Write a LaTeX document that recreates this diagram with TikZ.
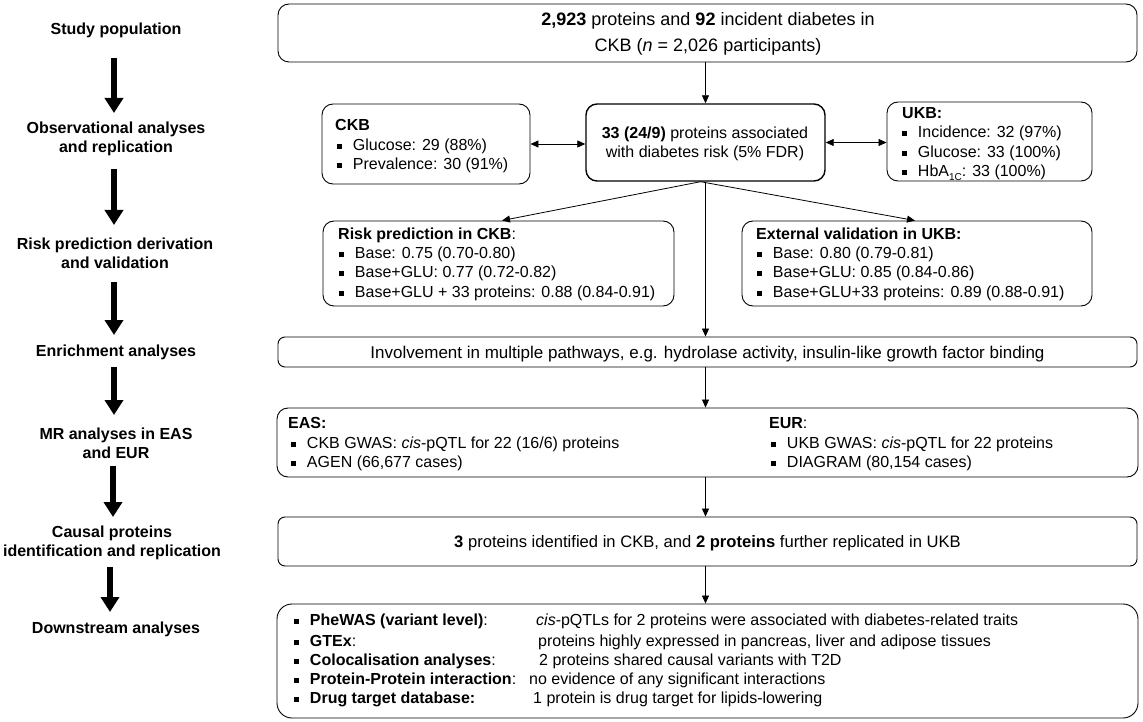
\documentclass[tikz,border=0pt]{standalone}
\usepackage{fontspec}
\setmainfont{Liberation Sans}
\usetikzlibrary{arrows.meta}
\newcommand{\bsq}{\rule[0.1em]{0.33em}{0.33em}}
\newcommand{\bl}[1]{\bsq\hspace{11pt}#1}
\begin{document}
\begin{tikzpicture}[x=1pt,y=-1pt,
  every node/.style={inner sep=0pt, font=\fontsize{16}{19}\selectfont},
  box/.style={draw, line width=0.9pt, rounded corners=11pt},
  sbox/.style={draw, line width=0.9pt, rounded corners=7pt},
  txt/.style={anchor=base west},
  ctxt/.style={anchor=base},
  lab/.style={align=center, font=\fontsize{16}{19}\selectfont\bfseries},
  arr/.style={line width=0.8pt, -{Triangle[length=8pt,width=7pt]}},
  darr/.style={line width=0.8pt, {Triangle[length=8pt,width=7pt]}-{Triangle[length=8pt,width=7pt]}},
  bigarr/.style={line width=6pt, -{Triangle[length=15pt,width=18pt]}}]
\useasboundingbox (0,0) rectangle (1143,722);
\fill[white] (0,0) rectangle (1143,722);

% ---------- left column labels ----------
\node[lab, anchor=base] (l1) at (116,34.5) {Study population};
\node[lab] (l2) at (116,139) {Observational analyses\\and replication};
\node[lab] (l3) at (115,253) {Risk prediction derivation\\and validation};
\node[lab, anchor=base] (l4) at (116,356.5) {Enrichment analyses};
\node[lab] (l5) at (116,443) {MR analyses in EAS\\and EUR};
\node[lab] (l6) at (112,543) {Causal proteins\\identification and replication};
\node[lab, anchor=base] (l7) at (116,633.5) {Downstream analyses};

\coordinate (a1s) at (114,58);  \coordinate (a1e) at (114,113);
\coordinate (a2s) at (114,169); \coordinate (a2e) at (114,225);
\coordinate (a3s) at (114,282); \coordinate (a3e) at (114,335);
\coordinate (a4s) at (114,367); \coordinate (a4e) at (114,415);
\coordinate (a5s) at (113,466); \coordinate (a5e) at (113,517);
\coordinate (a6s) at (110,567); \coordinate (a6e) at (110,612);
\foreach \i in {1,...,6} \draw[bigarr] (a\i s) -- (a\i e);

% ---------- boxes ----------
\node[box, minimum width=859pt, minimum height=58pt] (top) at (707.5,33) {};
\node[box, minimum width=208pt, minimum height=80pt] (ckb) at (426,144) {};
\node[box, line width=1.4pt, minimum width=239pt, minimum height=77pt] (cen) at (705.5,142.5) {};
\node[box, minimum width=205pt, minimum height=79pt] (ukb) at (989.5,141.5) {};
\node[box, minimum width=351pt, minimum height=85pt] (risk) at (498.5,263.5) {};
\node[box, minimum width=350pt, minimum height=85pt] (ext) at (917,263.5) {};
\node[sbox, minimum width=859pt, minimum height=30pt] (enr) at (707.5,352) {};
\node[box, minimum width=861pt, minimum height=69pt] (mr) at (707.5,442.5) {};
\node[sbox, minimum width=859pt, minimum height=49pt] (cau) at (707.5,541.5) {};
\node[box, rounded corners=15pt, minimum width=861pt, minimum height=114pt] (down) at (707.5,661) {};

% ---------- connectors ----------
\draw[arr] (top.south -| cen.north) -- (cen.north);
\draw[darr] (ckb.east) -- (ckb.east -| cen.west);
\draw[darr] (cen.east) -- (cen.east -| ukb.west);
\draw[arr] ([xshift=-5pt]cen.south) -- ([xshift=3.5pt]risk.north);
\draw[arr] ([xshift=-5pt]cen.south) -- ([xshift=-2pt]ext.north);
\draw[arr] (cen.south) -- (cen.south |- enr.north);
\draw[arr] (enr.south -| cen.south) -- (mr.north -| cen.south);
\draw[arr] (mr.south -| cen.south) -- (cau.north -| cen.south);
\draw[arr] (cau.south -| cen.south) -- (down.north -| cen.south);

% ---------- texts ----------
\node[ctxt, font=\fontsize{18}{22}\selectfont] (t1) at (708,25.5) {\textbf{2,923} proteins and \textbf{92} incident diabetes in};
\node[ctxt, font=\fontsize{18}{22}\selectfont] (t2) at (708,51.5) {CKB (\textit{n} = 2,026 participants)};

\node[ctxt] (c1) at (705,138.5) {\textbf{33 (24/9)} proteins associated};
\node[ctxt] (c2) at (705,157.5) {with diabetes risk (5\% FDR)};

\node[txt] (k0) at (335,130.5) {\textbf{CKB}};
\node[txt] (k1) at (336.5,150.5) {\bl{Glucose: 29 (88\%)}};
\node[txt] (k2) at (336.5,169.5) {\bl{Prevalence: 30 (91\%)}};

\node[txt] (u0) at (902,118.5) {\textbf{UKB:}};
\node[txt] (u1) at (901.5,137.5) {\bl{Incidence: 32 (97\%)}};
\node[txt] (u2) at (901.5,157.5) {\bl{Glucose: 33 (100\%)}};
\node[txt] (u3) at (901.5,176.5) {\bl{HbA\raisebox{-0.25em}{\fontsize{10}{10}\selectfont 1C}: 33 (100\%)}};

\node[txt] (r0) at (338,239.5) {\textbf{Risk prediction in CKB}:};
\node[txt] (r1) at (338.5,258.5) {\bl{Base: 0.75 (0.70-0.80)}};
\node[txt] (r2) at (338.5,277.5) {\bl{Base+GLU: 0.77 (0.72-0.82)}};
\node[txt] (r3) at (338.5,297.5) {\bl{Base+GLU + 33 proteins: 0.88 (0.84-0.91)}};

\node[txt] (e0) at (756,239.5) {\textbf{External validation in UKB:}};
\node[txt] (e1) at (756.5,258.5) {\bl{Base: 0.80 (0.79-0.81)}};
\node[txt] (e2) at (756.5,277.5) {\bl{Base+GLU: 0.85 (0.84-0.86)}};
\node[txt] (e3) at (756.5,297.5) {\bl{Base+GLU+33 proteins: 0.89 (0.88-0.91)}};

\node[ctxt, font=\fontsize{17}{20}\selectfont] (n1) at (707.5,358) {Involvement in multiple pathways, e.g. hydrolase activity, insulin-like growth factor binding};

\node[txt] (m0) at (288,428.5) {\textbf{EAS:}};
\node[txt] (m1) at (290.5,448.5) {\bl{CKB GWAS: \textit{cis}-pQTL for 22 (16/6) proteins}};
\node[txt] (m2) at (290.5,467.5) {\bl{AGEN (66,677 cases)}};
\node[txt] (m3) at (769,428.5) {\textbf{EUR}:};
\node[txt] (m4) at (770.5,448.5) {\bl{UKB GWAS: \textit{cis}-pQTL for 22 proteins}};
\node[txt] (m5) at (770.5,467.5) {\bl{DIAGRAM (80,154 cases)}};

\node[ctxt, font=\fontsize{16.6}{20}\selectfont] (q1) at (707.5,547) {\textbf{3} proteins identified in CKB, and \textbf{2 proteins} further replicated in UKB};

\node[txt] (d1) at (293.5,625.5) {\bl{\textbf{PheWAS (variant level)}:}};
\node[txt] (d2) at (293.5,646.5) {\bl{\textbf{GTEx}:}};
\node[txt] (d3) at (293.5,665.5) {\bl{\textbf{Colocalisation analyses}:}};
\node[txt] (d4) at (293.5,684.5) {\bl{\textbf{Protein-Protein interaction}:}};
\node[txt] (d5) at (293.5,703.5) {\bl{\textbf{Drug target database:}}};
\node[txt] (f1) at (536,625.5) {\textit{cis}-pQTLs for 2 proteins were associated with diabetes-related traits};
\node[txt] (f2) at (538,646.5) {proteins highly expressed in pancreas, liver and adipose tissues};
\node[txt] (f3) at (539,665.5) {2 proteins shared causal variants with T2D};
\node[txt] (f4) at (529,684.5) {no evidence of any significant interactions};
\node[txt] (f5) at (533,703.5) {1 protein is drug target for lipids-lowering};
\end{tikzpicture}
\end{document}
